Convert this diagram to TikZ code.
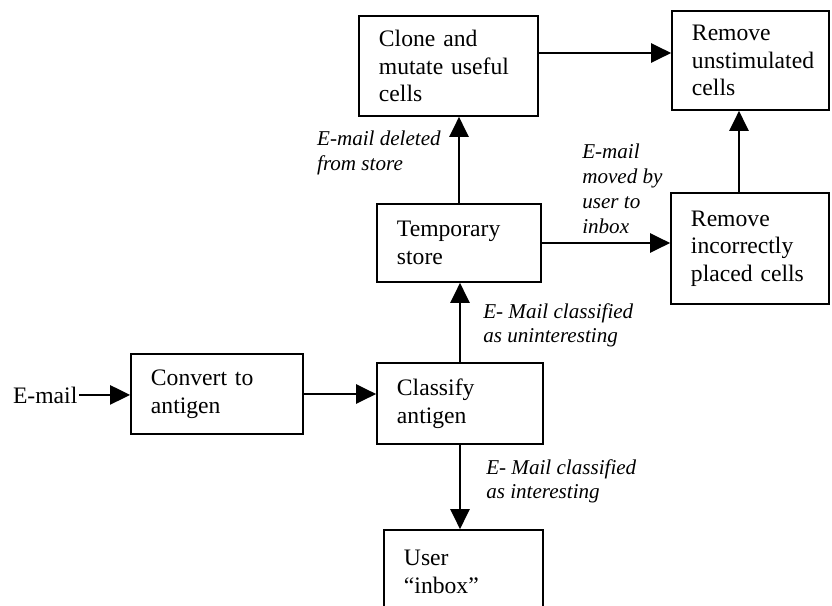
\documentclass[tikz,border=0pt]{standalone}
\usepackage{fontspec}
\setmainfont{Liberation Serif}
\usetikzlibrary{arrows.meta, positioning, calc}

\begin{document}
\begin{tikzpicture}[x=0.025cm, y=-0.025cm,
    stage/.style={draw, line width=1.2pt, align=left, inner xsep=0.5cm, inner ysep=2pt,
      font=\fontsize{16.8}{19.6}\selectfont},
    note/.style={anchor=north west, inner sep=0pt, align=left,
      font=\fontsize{15}{17.6}\selectfont\itshape},
    flow/.style={line width=1.2pt, -{Triangle[length=0.5cm, width=0.48cm]}}]
  \clip (0,0) rectangle (832,605);

  % Processing stages
  \node[stage, text width=3.475cm, minimum height=2.5cm] (clone) at (448.5, 66) {Clone and\\mutate useful\\cells};
  \node[stage, text width=2.925cm, minimum height=2.475cm] (unstim) at (750.5, 60.5) {Remove\\unstimulated\\cells};
  \node[stage, text width=3.1cm, minimum height=1.95cm] (store) at (459, 243) {Temporary\\store};
  \node[stage, text width=2.95cm, minimum height=2.775cm] (wrong) at (750, 248.5) {Remove\\incorrectly\\placed cells};
  \node[stage, text width=3.3cm, minimum height=2cm] (convert) at (217, 394) {Convert to\\antigen};
  \node[stage, text width=3.15cm, minimum height=2.025cm] (classify) at (460, 403.5) {Classify\\antigen};
  \node[stage, text width=2.975cm, minimum height=2.1cm] (inbox) at (463.5, 572) {User\\``inbox''};

  % Input
  \node[anchor=base east, inner sep=1pt, font=\fontsize{16.8}{19.6}\selectfont] (email) at (79, 403) {E-mail};

  % Connectors
  \draw[flow] (email.east) -- (email.east -| convert.west);
  \draw[flow] (convert.east) -- (convert.east -| classify.west);
  \draw[flow] (classify.north) -- (classify.north |- store.south);
  \draw[flow] (classify.south) -- (classify.south |- inbox.north);
  \draw[flow] (store.north) -- (store.north |- clone.south);
  \draw[flow] (store.east) -- (store.east -| wrong.west);
  \draw[flow] ([yshift=0.325cm]clone.east) -- ([yshift=0.325cm]clone.east -| unstim.west);
  \draw[flow] ([xshift=-0.275cm]wrong.north) -- ([xshift=-0.275cm]wrong.north |- unstim.south);

  % Connector labels
  \node[note, anchor=north east] (deleted) at (441, 131) {E-mail deleted\\from store};
  \node[note] (moved) at (582, 144) {E-mail\\moved by\\user to\\inbox};
  \node[note] (unint) at (483, 303) {E- Mail classified\\as uninteresting};
  \node[note] (interest) at (486, 459) {E- Mail classified\\as interesting};
\end{tikzpicture}
\end{document}
